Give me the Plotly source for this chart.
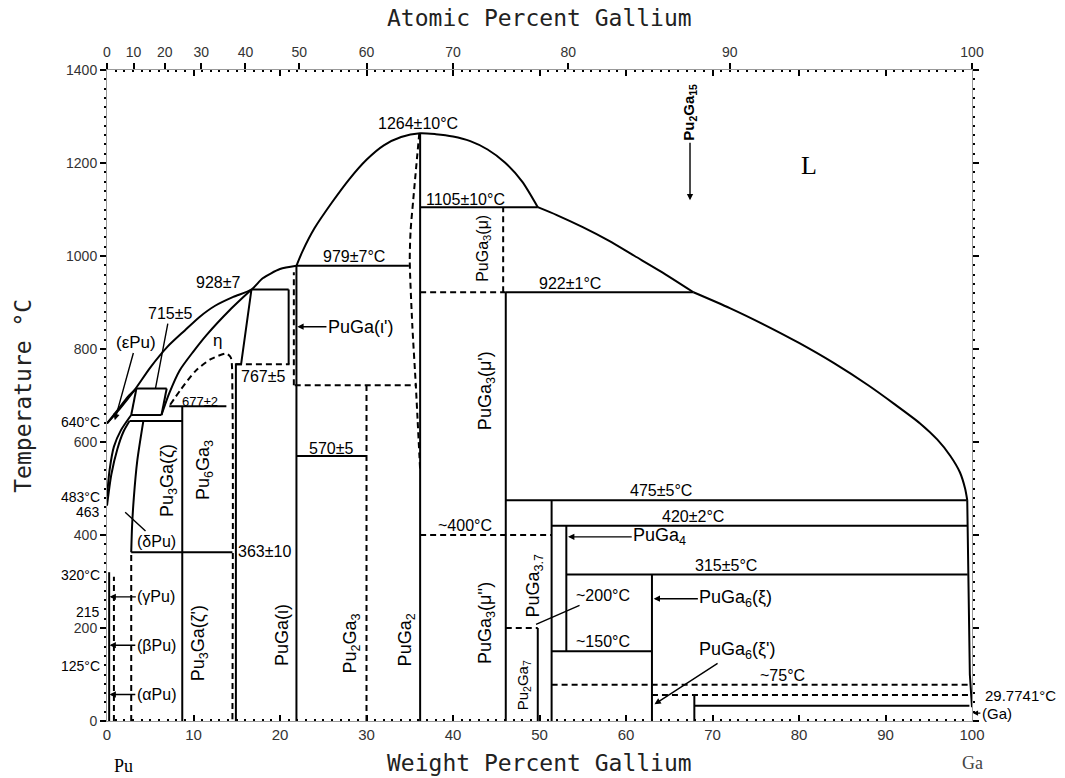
import plotly.graph_objects as go

# ---------------- axis values ----------------
wt_ticks = [0, 10, 20, 30, 40, 50, 60, 70, 80, 90, 100]
temp_ticks = [0, 200, 400, 600, 800, 1000, 1200, 1400]
at_ticks = [0, 10, 20, 30, 40, 50, 60, 70, 80, 90, 100]
M_PU = 244.0
M_GA = 69.72
X_MAX = 100.0
T_MAX = 1400.0

# ---------------- curved boundaries (wt% Ga, deg C) ----------------
liq_pu_x = [0, 1.5, 3.2, 5.0, 7.0, 9.0, 10.7, 12.5, 14.6, 16.7, 18.0, 20.0, 21.9]
liq_pu_t = [640, 672, 712, 760, 805, 840, 869, 893, 912, 928, 952, 972, 979]
dome_x = [21.9, 22.6, 24, 26, 28, 30, 32, 34, 36.2, 38, 40, 42, 44, 46, 48, 49.8]
dome_t = [979, 1010, 1060, 1115, 1165, 1207, 1238, 1256, 1264, 1262, 1257, 1247, 1229, 1201, 1160, 1105]
liq_mid_x = [49.8, 52, 55, 58, 61, 64, 67.8]
liq_mid_t = [1105, 1088, 1062, 1033, 1000, 967, 922]
liq_ga_x = [67.8, 72, 76, 80, 84, 88, 91, 94, 96, 97.5, 98.6, 99.2, 99.45]
liq_ga_t = [922, 888, 852, 813, 770, 722, 682, 640, 605, 570, 535, 500, 475]
ga_edge_x = [99.45, 99.6, 99.75, 100]
ga_edge_t = [475, 300, 100, 29.8]

eps_sol_x = [0, 1.2, 2.4, 3.4]
eps_sol_t = [640, 668, 697, 715]
pu_e1_x = [0, 0.3, 0.8, 1.6, 2.8]
pu_e1_t = [483, 540, 590, 625, 658]
pu_e2_x = [0, 0.5, 1.2, 1.9, 2.6]
pu_e2_t = [463, 530, 585, 622, 645]
delta_x = [2.8, 2.9, 3.1, 3.5, 4.2]
delta_t = [363, 420, 480, 560, 645]
box_l_x = [2.8, 3.4]
box_l_t = [658, 715]
box_r_x = [6.3, 6.9]
box_r_t = [658, 715]
zeta_x = [6.3, 7.2, 8.4, 10.0, 11.5, 14.2, 16.7]
zeta_t = [658, 705, 754, 795, 830, 884, 928]
puga_l_x = [14.9, 14.9, 15.5, 16.7]
puga_l_t = [0, 767, 767, 928]

eta_x = [7.3, 8.5, 10.3, 12.0, 13.8, 14.3, 14.5, 14.5]
eta_t = [680, 712, 754, 778, 790, 782, 700, 0]
puga2_d_x = [36.1, 35.4, 35.1, 35.0, 35.3, 35.7, 35.9, 36.2]
puga2_d_t = [1264, 1120, 1055, 990, 850, 722, 650, 540]

# ---------------- isotherms ----------------
iso_t = [715, 658, 645, 677, 363, 928, 979, 570, 1105, 922, 475, 420, 315, 150, 33]
iso_x0 = [3.4, 2.8, 2.6, 7.2, 2.8, 16.7, 21.9, 21.9, 36.2, 46.1, 46.1, 51.4, 53.1, 51.4, 67.9]
iso_x1 = [6.9, 6.3, 8.7, 13.8, 14.5, 21.0, 34.9, 30.0, 49.8, 67.8, 99.4, 99.45, 99.5, 63.0, 99.7]
iso_d_t = [767, 722, 922, 400, 200, 78, 56]
iso_d_x0 = [14.9, 21.7, 36.2, 36.2, 46.1, 51.4, 63.0]
iso_d_x1 = [21.1, 35.8, 46.1, 51.4, 49.8, 99.6, 99.6]

# ---------------- vertical phase lines ----------------
vert_x = [8.7, 21.0, 21.9, 36.2, 46.1, 49.8, 51.4, 53.1, 63.0, 67.9, 0.25]
vert_t0 = [0, 767, 0, 0, 0, 0, 0, 150, 0, 0, 0]
vert_t1 = [677, 928, 979, 1264, 922, 200, 475, 420, 315, 56, 320]
vert_d_x = [2.8, 30.0, 45.8, 0.8, 21.6]
vert_d_t0 = [0, 0, 922, 0, 722]
vert_d_t1 = [363, 722, 1105, 310, 965]


def at_to_wt(a):
    return 100.0 * a * M_GA / (a * M_GA + (100.0 - a) * M_PU)


fig = go.Figure()
DASH = "6px,4px"


def add(xs, ys, dash=None, smooth=False, width=2):
    ln = dict(color="black", width=width)
    if dash:
        ln["dash"] = dash
    if smooth:
        ln["shape"] = "spline"
        ln["smoothing"] = 0.7
    fig.add_trace(go.Scatter(x=xs, y=ys, mode="lines", line=ln,
                             hoverinfo="skip", showlegend=False, cliponaxis=False))


for xs, ys in [(liq_pu_x, liq_pu_t), (dome_x, dome_t), (liq_mid_x, liq_mid_t),
               (liq_ga_x, liq_ga_t), (eps_sol_x, eps_sol_t), (pu_e1_x, pu_e1_t),
               (pu_e2_x, pu_e2_t), (delta_x, delta_t), (zeta_x, zeta_t)]:
    add(xs, ys, smooth=True)
for xs, ys in [(ga_edge_x, ga_edge_t), (box_l_x, box_l_t), (box_r_x, box_r_t),
               (puga_l_x, puga_l_t)]:
    add(xs, ys)
add(eta_x, eta_t, dash=DASH, smooth=True)
add(puga2_d_x, puga2_d_t, dash=DASH, smooth=True)

for t, a, b in zip(iso_t, iso_x0, iso_x1):
    add([a, b], [t, t])
for t, a, b in zip(iso_d_t, iso_d_x0, iso_d_x1):
    add([a, b], [t, t], dash=DASH)
for x, a, b in zip(vert_x, vert_t0, vert_t1):
    add([x, x], [a, b])
for x, a, b in zip(vert_d_x, vert_d_t0, vert_d_t1):
    add([x, x], [a, b], dash=DASH)

# invisible trace for the top (atomic %) axis
fig.add_trace(go.Scatter(x=[0, 100], y=[0, 0], xaxis="x2", mode="markers",
                         marker=dict(opacity=0), hoverinfo="skip", showlegend=False))

SANS = "Liberation Sans, Arial, sans-serif"
MONO = "DejaVu Sans Mono, monospace"
SERIF = "Liberation Serif, serif"
ann = []


def txt(text, x, y, size=15, angle=0, xanchor="center", font=SANS, color="black",
        outside=False):
    d = dict(text=text, showarrow=False, textangle=angle, xanchor=xanchor,
             yanchor="middle", font=dict(family=font, size=size, color=color))
    if outside:  # positions beyond the axis ranges -> paper coordinates
        d.update(x=x / X_MAX, y=y / T_MAX, xref="paper", yref="paper")
    else:
        d.update(x=x, y=y, xref="x", yref="y")
    ann.append(d)


def arr(text, xh, yh, xt, yt, size=17, head=2, angle=0):
    ann.append(dict(text=text, x=xh, y=yh, ax=xt, ay=yt, xref="x", yref="y",
                    axref="x", ayref="y", showarrow=True, arrowhead=head,
                    arrowsize=0.9, arrowwidth=1.4, arrowcolor="black", standoff=0,
                    textangle=angle, font=dict(family=SANS, size=size, color="black")))


# temperature labels
T = 16
txt("1264±10°C", 35.9, 1284, T)
txt("1105±10°C", 41.5, 1122, T)
txt("979±7°C", 28.6, 1000, T)
txt("928±7", 12.8, 942, T)
txt("767±5", 18.0, 740, T)
txt("677±2", 10.7, 688, 13)
txt("570±5", 25.9, 586, T)
txt("363±10", 18.2, 364, T)
txt("922±1°C", 53.5, 941, T)
txt("~400°C", 41.4, 421, T)
txt("475±5°C", 64.1, 496, T)
txt("420±2°C", 67.7, 439, T)
txt("315±5°C", 71.6, 335, T)
txt("~150°C", 57.3, 170, T)
txt("~75°C", 78.1, 98, T)
txt("η", 12.8, 819, 17)
txt("L", 81.2, 1195, 26, font=SERIF)
txt("29.7741°C", 101.3, 55, 15, xanchor="left", outside=True)

# phase labels (vertical)
P = 18
txt("Pu<sub>3</sub>Ga(ζ)", 7.05, 518, P, -90)
txt("Pu<sub>6</sub>Ga<sub>3</sub>", 11.3, 539, P, -90)
txt("Pu<sub>3</sub>Ga(ζ')", 10.7, 166, P, -90)
txt("PuGa(ι)", 20.3, 184, P, -90)
txt("Pu<sub>2</sub>Ga<sub>3</sub>", 28.3, 166, P, -90)
txt("PuGa<sub>2</sub>", 34.6, 174, P, -90)
txt("PuGa<sub>3</sub>(μ'')", 43.9, 210, P, -90)
txt("Pu<sub>2</sub>Ga<sub>7</sub>", 48.1, 77, 15, -90)
txt("PuGa<sub>3.7</sub>", 49.4, 292, P, -90)
txt("PuGa<sub>3</sub>(μ')", 43.9, 711, P, -90)
txt("PuGa<sub>3</sub>(μ)", 43.5, 1016, 16, -90)

# labels with leaders
arr("(εPu)", 0.9, 647, 3.4, 815, 17)
arr("715±5", 5.6, 715, 7.25, 876, T, head=0)
arr("PuGa(ι')", 22.0, 848, 29.3, 848, 18)
arr("(δPu)", 2.1, 449, 5.7, 387, 16, head=0)
arr("(γPu)", 0.3, 267, 5.7, 267, 16)
arr("(βPu)", 0.3, 163, 5.7, 163, 16)
arr("(αPu)", 0.3, 57, 5.7, 57, 16)
arr("PuGa<sub>4</sub>", 53.3, 396, 63.9, 396, 18)
arr("~200°C", 49.6, 208, 57.3, 270, T, head=0)
arr("PuGa<sub>6</sub>(ξ)", 63.2, 263, 72.7, 263, 18)
arr("PuGa<sub>6</sub>(ξ')", 63.3, 36, 72.9, 152, 18)
arr("<b>Pu<sub>2</sub>Ga<sub>15</sub></b>", 67.4, 1120, 67.4, 1308, 15, angle=-90)

# (Ga) label with short arrow to the Ga axis (outside x range -> paper coords)
ann.append(dict(text="(Ga)", x=1.001, y=17 / T_MAX, xref="paper", yref="paper",
                ax=24, ay=0, axref="pixel", ayref="pixel", showarrow=True, arrowhead=2,
                arrowsize=0.8, arrowwidth=1.3, arrowcolor="black", standoff=0,
                font=dict(family=SANS, size=15, color="black")))

# left-side pure-Pu temperatures
for s, t in [("640°C", 642), ("483°C", 482), ("463", 450), ("320°C", 313),
             ("215", 234), ("125°C", 118)]:
    txt(s, -0.6, t, 14, xanchor="right", outside=True)

txt("Pu", 1.85, -97, 18, font=SERIF, outside=True)
txt("Ga", 100.1, -90, 18, font=SERIF, color="#444", outside=True)

# axis titles
TITLE_FONT = dict(family=MONO, size=23, color="#222")
ann.append(dict(text="Weight Percent Gallium", x=0.5, y=-0.0645, xref="paper", yref="paper",
                xanchor="center", yanchor="middle", showarrow=False, font=TITLE_FONT))
ann.append(dict(text="Atomic Percent Gallium", x=0.5, y=1.08, xref="paper", yref="paper",
                xanchor="center", yanchor="middle", showarrow=False, font=TITLE_FONT))
ann.append(dict(text="Temperature °C", x=-0.098, y=0.5, xref="paper", yref="paper",
                xanchor="center", yanchor="middle", showarrow=False, textangle=-90,
                font=TITLE_FONT))

top_vals = [at_to_wt(a) for a in at_ticks]

fig.update_layout(
    width=1065, height=778,
    margin=dict(l=107, r=93, t=70, b=57, autoexpand=False),
    paper_bgcolor="white", plot_bgcolor="white",
    annotations=ann,
    xaxis=dict(range=[0, X_MAX], tickvals=wt_ticks, ticks="inside", ticklen=6,
               tickwidth=1.5, tickcolor="black", showgrid=False, zeroline=False,
               automargin=False,
               showline=True, linecolor="rgba(0,0,0,0.4)", linewidth=1, mirror="ticks",
               tickfont=dict(family=SANS, size=15, color="#333"),
               minor=dict(dtick=1, ticks="inside", ticklen=2, tickwidth=1.5,
                          tickcolor="black", showgrid=False)),
    xaxis2=dict(range=[0, X_MAX], overlaying="x", side="top", tickvals=top_vals,
                ticktext=[str(a) for a in at_ticks], ticks="outside", ticklen=6,
                tickwidth=1.5, tickcolor="black", showgrid=False, zeroline=False,
                automargin=False,
                showline=False, tickfont=dict(family=SANS, size=14, color="#333")),
    yaxis=dict(range=[0, T_MAX], tickvals=temp_ticks, ticks="outside", ticklen=6,
               tickwidth=1.5, tickcolor="black", showgrid=False, zeroline=False,
               automargin=False,
               showline=True, linecolor="rgba(0,0,0,0.4)", linewidth=1, mirror="ticks",
               tickfont=dict(family=SANS, size=14, color="#333"),
               minor=dict(dtick=20, ticks="outside", ticklen=2, tickwidth=1.5,
                          tickcolor="black", showgrid=False)),
)

fig.write_html("out.html", config={"displayModeBar": False},
               post_script="document.body.style.margin='0px';"
                           "document.body.style.overflow='hidden';")
